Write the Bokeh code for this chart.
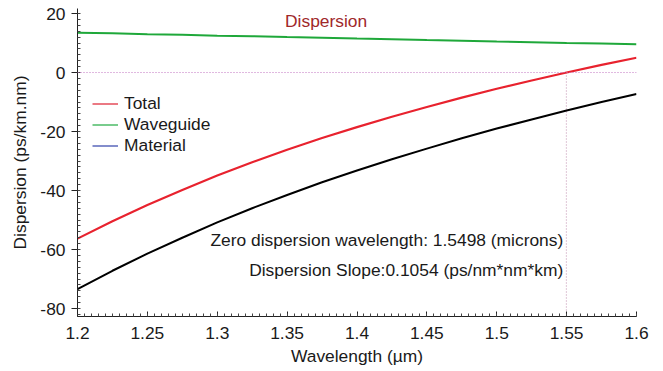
from bokeh.plotting import figure
from bokeh.models import (Range1d, FixedTicker, Legend, LegendItem, Span, Label, ColumnDataSource)
from bokeh.embed import file_html
from bokeh.resources import INLINE

# ---- data ----
wavelength = [1.200, 1.225, 1.250, 1.275, 1.300, 1.325, 1.350, 1.375, 1.400,
              1.425, 1.450, 1.475, 1.500, 1.525, 1.550, 1.575, 1.600]
total = [-56.3, -50.4, -44.9, -39.8, -34.9, -30.4, -26.2, -22.2, -18.5,
         -15.0, -11.7, -8.5, -5.5, -2.7, 0.0, 2.6, 5.0]
waveguide = [13.5, 13.3, 13.0, 12.8, 12.5, 12.3, 12.0, 11.8, 11.5,
             11.3, 11.0, 10.8, 10.5, 10.3, 10.0, 9.8, 9.6]
material = [-73.4, -67.2, -61.4, -56.0, -50.8, -46.0, -41.5, -37.2, -33.2,
            -29.4, -25.8, -22.3, -19.0, -15.9, -12.9, -10.0, -7.3]

zero_wavelength = 1.5498
dispersion_slope = 0.1054

x_ticks = [1.2, 1.25, 1.3, 1.35, 1.4, 1.45, 1.5, 1.55, 1.6]
x_tick_labels = ["1.2", "1.25", "1.3", "1.35", "1.4", "1.45", "1.5", "1.55", "1.6"]
y_ticks = [-80, -60, -40, -20, 0, 20]
y_tick_labels = ["-80", "-60", "-40", "-20", "0", "20"]

FONT = "Liberation Sans"
FS = "17.4px"
TXT = "#1a1a1a"

p = figure(width=654, height=368, output_backend="svg", toolbar_location=None,
           x_range=Range1d(1.2, 1.6), y_range=Range1d(-82.7, 21.7),
           min_border_left=77, min_border_right=18, min_border_top=8, min_border_bottom=52)
p.outline_line_color = None
p.grid.visible = False
p.background_fill_color = "white"
p.border_fill_color = "white"

# ticks
x_minor = [round(1.2 + 0.005 * i, 4) for i in range(81)]
y_minor = list(range(-82, 22, 2))
p.xaxis.ticker = FixedTicker(ticks=x_ticks, minor_ticks=x_minor)
p.xaxis.major_label_overrides = {t: l for t, l in zip(x_ticks, x_tick_labels)}
p.yaxis.ticker = FixedTicker(ticks=y_ticks, minor_ticks=y_minor)
p.yaxis.major_label_overrides = {t: l for t, l in zip(y_ticks, y_tick_labels)}

for ax in (p.xaxis[0], p.yaxis[0]):
    ax.axis_line_color = "#222222"
    ax.major_tick_line_color = "#222222"
    ax.minor_tick_line_color = "#444444"
    ax.major_label_text_font = FONT
    ax.major_label_text_font_size = FS
    ax.major_label_text_color = TXT
    ax.axis_label_text_font = FONT
    ax.axis_label_text_font_size = FS
    ax.axis_label_text_font_style = "normal"
    ax.axis_label_text_color = TXT

p.xaxis.axis_label = "Wavelength (µm)"
p.xaxis.major_tick_in = 5
p.xaxis.major_tick_out = 0
p.xaxis.minor_tick_in = 3
p.xaxis.minor_tick_out = 0
p.xaxis.major_label_standoff = 10
p.xaxis.axis_label_standoff = 4

p.yaxis.axis_label = "Dispersion (ps/km.nm)"
p.yaxis.major_tick_in = 0
p.yaxis.major_tick_out = 6
p.yaxis.minor_tick_in = 3
p.yaxis.minor_tick_out = 0
p.yaxis.major_label_standoff = 6
p.yaxis.axis_label_standoff = 7

# reference dotted lines
p.add_layout(Span(location=0, dimension="width", line_color="#c070c0",
                  line_width=1, line_dash="1 2"))
p.segment(x0=[zero_wavelength], y0=[-82.7], x1=[zero_wavelength], y1=[0],
          line_color="#c08fb0", line_width=1, line_dash="1 2")

src = ColumnDataSource(dict(x=wavelength, t=total, w=waveguide, m=material))
r_w = p.line("x", "w", source=src, line_color="#1fa83a", line_width=2)
r_m = p.line("x", "m", source=src, line_color="#000000", line_width=2)
r_t = p.line("x", "t", source=src, line_color="#e8222e", line_width=2.2)

# legend sample renderers (legend colours); no visible data
nan = float("nan")
l_t = p.line([wavelength[0]], [nan], line_color="#e03040", line_width=1.3)
l_w = p.line([wavelength[0]], [nan], line_color="#30b050", line_width=1.3)
l_m = p.line([wavelength[0]], [nan], line_color="#4050b0", line_width=1.3)

legend = Legend(items=[LegendItem(label="Total", renderers=[l_t]),
                       LegendItem(label="Waveguide", renderers=[l_w]),
                       LegendItem(label="Material", renderers=[l_m])],
                location=(15, 160), padding=0, margin=0, spacing=-3,
                glyph_width=26, glyph_height=19, label_height=19,
                label_standoff=6, border_line_color=None,
                background_fill_alpha=0,
                label_text_font=FONT, label_text_font_size=FS,
                label_text_color=TXT)
p.add_layout(legend)

p.add_layout(Label(x=1.3485, y=17.6, text="Dispersion", text_font=FONT,
                   text_font_size=FS, text_color="#a0282a", text_baseline="middle"))
p.add_layout(Label(x=1.5476, y=-56.9,
                   text="Zero dispersion wavelength: %.4f (microns)" % zero_wavelength,
                   text_font=FONT, text_font_size=FS, text_color=TXT,
                   text_align="right", text_baseline="middle"))
p.add_layout(Label(x=1.5476, y=-67.1,
                   text="Dispersion Slope:%.4f (ps/nm*nm*km)" % dispersion_slope,
                   text_font=FONT, text_font_size=FS, text_color=TXT,
                   text_align="right", text_baseline="middle"))

open("out.html", "w").write(file_html(p, INLINE))
